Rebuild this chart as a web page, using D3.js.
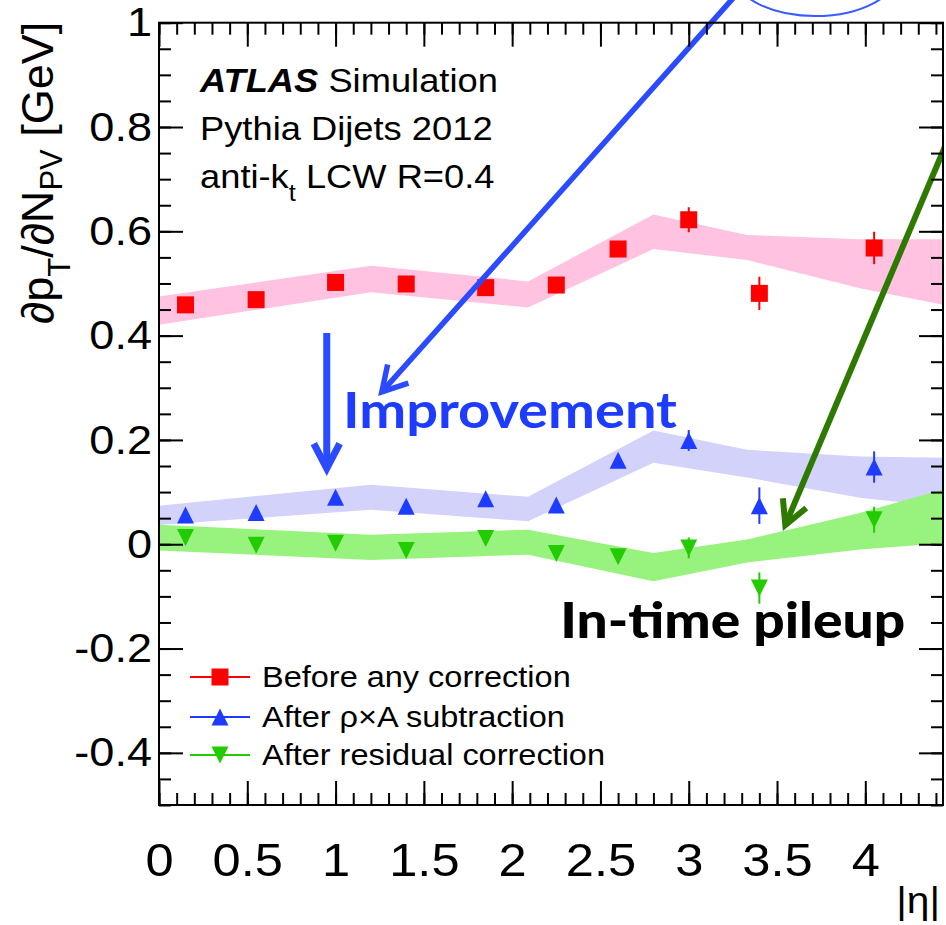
<!DOCTYPE html>
<html>
<head>
<meta charset="utf-8">
<script src="https://cdn.jsdelivr.net/npm/d3@7"></script>
<style>
  body { margin: 0; background: #fff; }
  svg text { font-family: "Liberation Sans", Arial, Helvetica, sans-serif; }
</style>
</head>
<body>
<svg id="chart" width="946" height="925"></svg>
<script>
// bin centres in |eta|
const etaBins = [0.15, 0.55, 1.0, 1.4, 1.85, 2.25, 2.6, 3.0, 3.4, 4.05];

const beforeVals = [0.459, 0.469, 0.502, 0.499, 0.492, 0.497, 0.566, 0.622, 0.481, 0.568];
const beforeErr  = [0.008, 0.010, 0.012, 0.012, 0.012, 0.010, 0.015, 0.024, 0.032, 0.031];
const rhoAVals   = [0.056, 0.061, 0.090, 0.073, 0.087, 0.075, 0.161, 0.199, 0.074, 0.148];
const rhoAErr    = [0.006, 0.008, 0.010, 0.010, 0.010, 0.008, 0.012, 0.020, 0.035, 0.030];
const residVals  = [0.013, -0.002, 0.002, -0.012, 0.011, -0.018, -0.024, -0.007, -0.084, 0.047];
const residErr   = [0.006, 0.008, 0.010, 0.010, 0.010, 0.008, 0.012, 0.020, 0.030, 0.025];

// uncertainty bands
const bandEta        = [0, 1.2, 2.09, 2.8, 3.33, 3.97, 4.44];
const beforeBandLo   = [0.421, 0.483, 0.454, 0.566, 0.545, 0.491, 0.459];
const beforeBandHi   = [0.475, 0.534, 0.504, 0.632, 0.593, 0.585, 0.585];
const rhoABandLo     = [0.037, 0.066, 0.044, 0.156, 0.128, 0.089, 0.072];
const rhoABandHi     = [0.074, 0.114, 0.091, 0.218, 0.181, 0.168, 0.166];
const residBandLo    = [-0.012, -0.030, -0.020, -0.071, -0.035, -0.010, 0.002];
const residBandHi    = [0.0375, 0.018, 0.028, -0.017, 0.009, 0.060, 0.105];

const legendLabels = ["Before any correction", "After \u03c1\u00d7A subtraction", "After residual correction"];
const xTicks = [0, 0.5, 1, 1.5, 2, 2.5, 3, 3.5, 4];
const yTicks = [-0.4, -0.2, 0, 0.2, 0.4, 0.6, 0.8, 1];

const plot = { left: 159, right: 943, top: 22.7, bottom: 805 };

const x = d3.scaleLinear().domain([0, 4.44]).range([plot.left, plot.right]);
const y = d3.scaleLinear().domain([-0.5, 1]).range([plot.bottom, plot.top]);

const svg = d3.select('#chart');

svg.append('defs').append('clipPath')
  .attr('id', 'plotClip')
  .append('rect')
  .attr('x', plot.left).attr('y', plot.top)
  .attr('width', plot.right - plot.left)
  .attr('height', plot.bottom - plot.top);

const series = [
  { vals: beforeVals, errs: beforeErr, lo: beforeBandLo, hi: beforeBandHi, color: '#ff0000', band: '#ffc2e0', marker: 'square' },
  { vals: rhoAVals, errs: rhoAErr, lo: rhoABandLo, hi: rhoABandHi, color: '#1e3cff', band: '#d2d2fa', marker: 'up' },
  { vals: residVals, errs: residErr, lo: residBandLo, hi: residBandHi, color: '#22cc00', band: '#98f37e', marker: 'down' }
];

function markerPath(type) {
  const s = 8.5;
  if (type === 'square') return `M${-s},${-s}H${s}V${s}H${-s}Z`;
  if (type === 'up') return `M0,${-s}L${s},${s}L${-s},${s}Z`;
  return `M0,${s}L${s},${-s}L${-s},${-s}Z`;
}

// bands
const bands = svg.append('g').attr('clip-path', 'url(#plotClip)');
const area = d3.area()
  .x(d => x(d.eta))
  .y0(d => y(d.lo))
  .y1(d => y(d.hi));

series.forEach(s => {
  const pts = bandEta.map((e, i) => ({ eta: e, lo: s.lo[i], hi: s.hi[i] }));
  bands.append('path')
    .datum(pts)
    .attr('fill', s.band)
    .attr('d', area);
});

// points with error bars
const pointsG = svg.append('g').attr('clip-path', 'url(#plotClip)');
series.forEach(s => {
  const pts = etaBins.map((e, i) => ({ eta: e, v: s.vals[i], err: s.errs[i] }));
  const g = pointsG.append('g');
  g.selectAll('line')
    .data(pts)
    .enter()
    .append('line')
    .attr('x1', d => x(d.eta)).attr('x2', d => x(d.eta))
    .attr('y1', d => y(d.v - d.err)).attr('y2', d => y(d.v + d.err))
    .attr('stroke', s.color)
    .attr('stroke-width', 2);
  g.selectAll('path')
    .data(pts)
    .enter()
    .append('path')
    .attr('d', markerPath(s.marker))
    .attr('transform', d => `translate(${x(d.eta)},${y(d.v)})`)
    .attr('fill', s.color);
});

// annotations
function arrow(g, x0, y0, x1, y1, color, w, len, ang) {
  g.append('line')
    .attr('x1', x0).attr('y1', y0).attr('x2', x1).attr('y2', y1)
    .attr('stroke', color).attr('stroke-width', w);
  const a = Math.atan2(y0 - y1, x0 - x1);
  const p1 = [x1 + len * Math.cos(a + ang), y1 + len * Math.sin(a + ang)];
  const p2 = [x1 + len * Math.cos(a - ang), y1 + len * Math.sin(a - ang)];
  g.append('path')
    .attr('d', `M${p1}L${x1},${y1}L${p2}`)
    .attr('fill', 'none')
    .attr('stroke', color).attr('stroke-width', w)
    .attr('stroke-linejoin', 'miter');
}

const ann = svg.append('g');
ann.append('ellipse')
  .attr('cx', x(3.717)).attr('cy', y(1.101))
  .attr('rx', 84).attr('ry', 46)
  .attr('fill', 'none')
  .attr('stroke', '#3a5bff')
  .attr('stroke-width', 2);

arrow(ann, x(3.317), y(1.072), x(1.262), y(0.292), '#2a4bff', 5.5, 28, 0.52);
arrow(ann, x(0.95), y(0.405), x(0.95), y(0.1455), '#2a4bff', 7, 28, 0.48);
arrow(ann.append('g').attr('clip-path', 'url(#plotClip)'), x(4.538), y(0.832), x(3.547), y(0.0368), '#2e7a00', 6, 27, 0.49);

ann.append('text')
  .attr('x', x(1.042)).attr('y', y(0.223))
  .attr('fill', '#1e3cff')
  .style('font-family', 'Lato, "DejaVu Sans", sans-serif')
  .style('font-weight', 'bold')
  .style('font-size', '50px')
  .attr('textLength', 334)
  .attr('lengthAdjust', 'spacingAndGlyphs')
  .text('Improvement');

ann.append('text')
  .attr('x', x(2.272)).attr('y', y(-0.180))
  .attr('fill', '#000')
  .style('font-family', 'Lato, "DejaVu Sans", sans-serif')
  .style('font-weight', '900')
  .style('font-size', '50px')
  .attr('textLength', 345)
  .attr('lengthAdjust', 'spacingAndGlyphs')
  .text('In-time pileup');

// ATLAS label
const lab = svg.append('g').style('font-size', '33px');
const l1 = lab.append('text').attr('class', 'stretch').attr('x', 200).attr('y', 91.7);
l1.append('tspan').style('font-weight', 'bold').style('font-style', 'italic').text('ATLAS');
l1.append('tspan').text(' Simulation');
lab.append('text').attr('class', 'stretch').attr('x', 200).attr('y', 140).text('Pythia Dijets 2012');
const l3 = lab.append('text').attr('class', 'stretch').attr('x', 200).attr('y', 188.3);
l3.append('tspan').text('anti-k');
l3.append('tspan').attr('dy', 13).style('font-size', '23px').text('t');
l3.append('tspan').attr('dy', -13).text(' LCW R=0.4');

// legend
const legend = svg.append('g');
const legendRows = [677, 717, 755];
series.forEach((s, i) => {
  const row = legend.append('g').attr('transform', `translate(0,${legendRows[i]})`);
  row.append('line')
    .attr('x1', 190).attr('x2', 250)
    .attr('stroke', s.color).attr('stroke-width', 2);
  row.append('path')
    .attr('d', markerPath(s.marker))
    .attr('transform', 'translate(220,0)')
    .attr('fill', s.color);
  row.append('text')
    .attr('class', 'stretch legend-text')
    .attr('x', 262).attr('y', 10)
    .style('font-size', '29px')
    .text(legendLabels[i]);
});

// axes
const xMinor = d3.range(0, 45).map(i => i / 10);
const yMinor = d3.range(-10, 21).map(i => i * 0.05);

function drawAxis(axis, tx, ty) {
  const g = svg.append('g')
    .attr('transform', `translate(${tx},${ty})`)
    .call(axis);
  g.select('.domain').remove();
  g.selectAll('.tick line').attr('stroke', '#000').attr('stroke-width', 2);
  return g;
}

const xAxisG = drawAxis(d3.axisBottom(x).tickValues(xTicks).tickSize(-24).tickPadding(38).tickFormat(d => String(d)), 0, plot.bottom);
drawAxis(d3.axisBottom(x).tickValues(xMinor).tickSize(-12).tickFormat(''), 0, plot.bottom);
drawAxis(d3.axisTop(x).tickValues(xTicks).tickSize(-24).tickFormat(''), 0, plot.top);
drawAxis(d3.axisTop(x).tickValues(xMinor).tickSize(-12).tickFormat(''), 0, plot.top);

const yAxisG = drawAxis(d3.axisLeft(y).tickValues(yTicks).tickSize(-24).tickPadding(7).tickFormat(d => String(d)), plot.left, 0);
drawAxis(d3.axisLeft(y).tickValues(yMinor).tickSize(-12).tickFormat(''), plot.left, 0);
drawAxis(d3.axisRight(y).tickValues(yTicks).tickSize(-24).tickFormat(''), plot.right, 0);
drawAxis(d3.axisRight(y).tickValues(yMinor).tickSize(-12).tickFormat(''), plot.right, 0);

[[xAxisG, '46px'], [yAxisG, '41px']].forEach(([g, size]) => {
  g.selectAll('text')
    .attr('class', 'stretch')
    .attr('fill', '#000')
    .style('font-size', size)
    .style('font-family', '"Liberation Sans", Arial, sans-serif');
});

svg.append('rect')
  .attr('x', plot.left).attr('y', plot.top)
  .attr('width', plot.right - plot.left)
  .attr('height', plot.bottom - plot.top)
  .attr('fill', 'none')
  .attr('stroke', '#000')
  .attr('stroke-width', 2);

// axis titles
svg.append('text')
  .attr('class', 'stretch')
  .attr('x', 940).attr('y', 913)
  .attr('text-anchor', 'end')
  .style('font-size', '37px')
  .text('|\u03b7|');

const yTitle = svg.append('text')
  .attr('transform', 'translate(53,21.7) rotate(-90)')
  .attr('text-anchor', 'end')
  .style('font-size', '45px');
yTitle.append('tspan').text('\u2202p');
yTitle.append('tspan').attr('dy', 17).style('font-size', '31px').text('T');
yTitle.append('tspan').attr('dy', -17).text('/\u2202N');
yTitle.append('tspan').attr('dy', 9).style('font-size', '31px').text('PV');
yTitle.append('tspan').attr('dy', -9).text(' [GeV]');

// ROOT output looks a bit wider than Helvetica, stretch the labels
svg.selectAll('.stretch').each(function () {
  const len = this.getComputedTextLength();
  const k = this.classList.contains('legend-text') ? 1.12 : 1.1;
  d3.select(this)
    .attr('textLength', len * k)
    .attr('lengthAdjust', 'spacingAndGlyphs');
});
</script>
</body>
</html>
